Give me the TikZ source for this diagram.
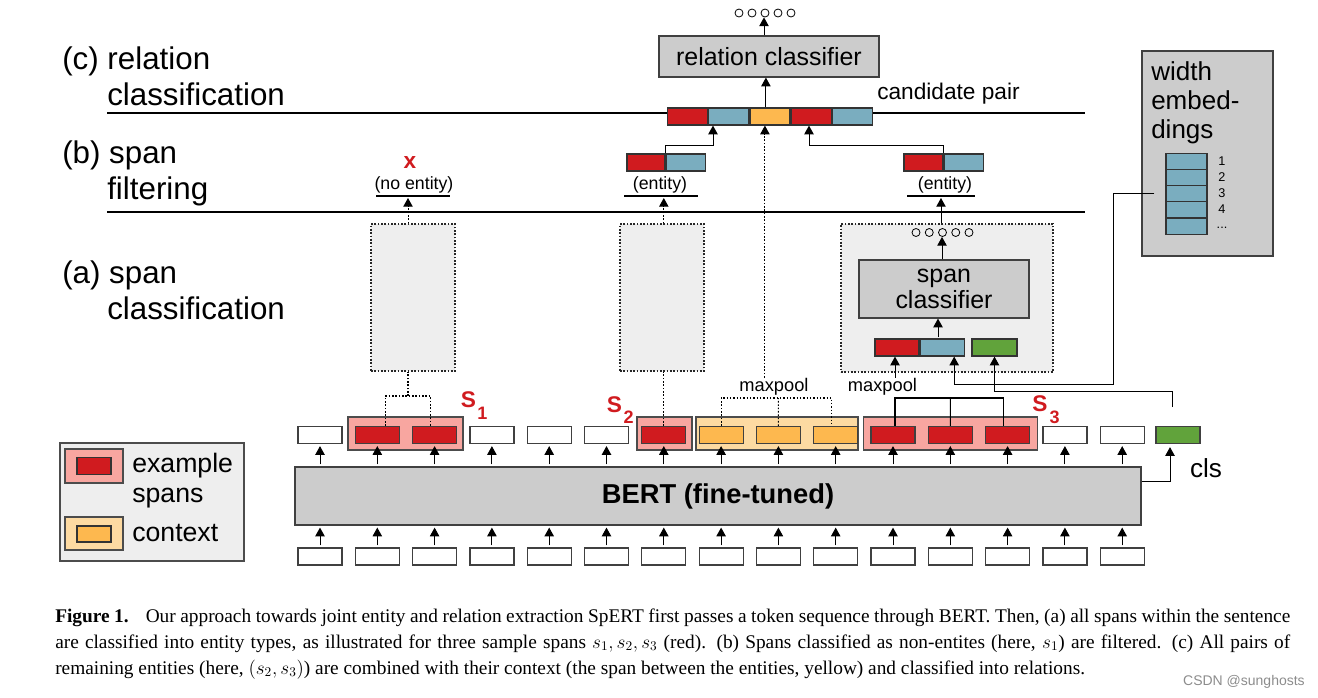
\documentclass[tikz,border=0pt]{standalone}
\usepackage{fontspec}
\setmainfont{Liberation Sans}
\newfontfamily\capfont{Liberation Serif}
\usetikzlibrary{arrows.meta,positioning}

\newlength{\upx}
\setlength{\upx}{0.75pt}

\definecolor{spanred}{RGB}{208,27,31}
\definecolor{embblue}{RGB}{122,173,191}
\definecolor{ctxyellow}{RGB}{253,184,79}
\definecolor{clsgreen}{RGB}{97,163,59}
\definecolor{spanpink}{RGB}{248,166,160}
\definecolor{ctxlight}{RGB}{253,218,162}
\definecolor{boxgray}{RGB}{204,204,204}
\definecolor{panelgray}{RGB}{238,238,238}

\tikzset{
  tok/.style={draw=black!75, line width=0.9pt, fill=white, minimum width=44\upx, minimum height=17\upx, inner sep=0pt},
  cell/.style={draw=black!80, line width=0.9pt, minimum width=40\upx, minimum height=17\upx, inner sep=0pt},
  spanbg/.style={draw=black!70, line width=0.9pt, fill=spanpink, minimum height=33\upx, inner sep=0pt},
  ctxbg/.style={spanbg, fill=ctxlight},
  grayblock/.style={draw=black!75, line width=0.9pt, fill=boxgray, inner sep=0pt},
  dotbox/.style={draw=black!85, dash pattern=on 1.2pt off 1.3pt, line width=0.9pt, fill=panelgray, inner sep=0pt},
  upar/.style={-{Triangle[width=7pt,length=6.5pt]}, line width=0.75pt},
  dotline/.style={dash pattern=on 1.2pt off 1.3pt, line width=0.8pt},
  lvl/.style={font=\fontsize{23.5pt}{27pt}\selectfont, align=left, anchor=base west, inner sep=0pt},
  smalltxt/.style={font=\fontsize{13.3pt}{16pt}\selectfont, inner sep=0pt},
  circ/.style={circle, draw, line width=0.6pt, minimum size=8\upx, inner sep=0pt},
  slbl/.style={text=spanred, font=\fontsize{17pt}{17pt}\selectfont\bfseries, inner sep=0pt},
  ssub/.style={text=spanred, font=\fontsize{13.5pt}{13.5pt}\selectfont\bfseries, inner sep=0pt},
  captxt/.style={anchor=base west, inner sep=0pt, font=\capfont\fontsize{14.5pt}{16pt}\selectfont},
}

\begin{document}
\begin{tikzpicture}[x=0.75pt, y=-0.75pt]
  \useasboundingbox (0,0) rectangle (1318,697);

  % levels (base = last line)
  \node[lvl] (lvlc) at (62,105) {(c) relation\\\hspace*{45\upx}classification};
  \node[lvl] (lvlb) at (62,199) {(b) span\\\hspace*{45\upx}filtering};
  \node[lvl] (lvla) at (62,319) {(a) span\\\hspace*{45\upx}classification};
  \draw[line width=0.9pt] (107,113) -- (667,113);
  \draw[line width=0.9pt] (868,113) -- (1085,113);
  \draw[line width=0.9pt] (107,212) -- (1085,212);

  % input tokens and BERT
  \foreach \i in {0,...,14} {
    \node[tok] (in\i) at ({320+57.3*\i},556.5) {};
  }
  \node[grayblock, minimum width=846\upx, minimum height=58\upx,
        font=\fontsize{20.5pt}{24pt}\selectfont\bfseries] (bert) at (718,496) {BERT (fine-tuned)};

  % spans behind the outputs
  \node[spanbg, minimum width=115\upx] (s1bg) at (405.5,433.5) {};
  \node[spanbg, minimum width=55\upx] (s2bg) at (664.5,433.5) {};
  \node[ctxbg, minimum width=162\upx] (ctx) at (777,433.5) {};
  \node[spanbg, minimum width=174\upx] (s3bg) at (950.5,433.5) {};
  \foreach \c [count=\i from 0] in {white,spanred,spanred,white,white,white,spanred,ctxyellow,ctxyellow,ctxyellow,spanred,spanred,spanred,white,white} {
    \node[tok, fill=\c] (out\i) at ({320+57.3*\i},435) {};
  }
  \node[tok, fill=clsgreen] (cls) at (1178,435) {};
  \foreach \i in {0,...,14} {
    \draw[upar, shorten <=2\upx, shorten >=2\upx] (in\i.north) -- (in\i.north |- bert.south);
    \draw[upar, shorten <=2\upx, shorten >=2\upx] (out\i.south |- bert.north) -- (out\i.south);
  }
  \coordinate (clsbend) at (1170,481);
  \draw[upar, shorten >=3\upx] (bert.east |- clsbend) -- (clsbend) -- (clsbend |- cls.south);
  \node[font=\fontsize{19.6pt}{22pt}\selectfont, anchor=base, inner sep=0pt] (clstxt) at (1206,477) {cls};

  \node[slbl] (s1) at (468.5,400) {S};
  \node[ssub] (s1i) at (482.5,413.5) {1};
  \node[slbl] (s2) at (614.5,405) {S};
  \node[ssub] (s2i) at (628.5,417.5) {2};
  \node[slbl] (s3) at (1040,404) {S};
  \node[ssub] (s3i) at (1054.5,417.5) {3};

  % span classification
  \node[dotbox, minimum width=84\upx, minimum height=147\upx] (box1) at (413,297.5) {};
  \node[dotbox, minimum width=84\upx, minimum height=147\upx] (box2) at (662,297.5) {};
  \node[dotbox, minimum width=212\upx, minimum height=148\upx] (box3) at (947,298) {};

  \node[cell, fill=spanred, minimum width=44\upx] (vr) at (897,347.5) {};
  \node[cell, fill=embblue, minimum width=44\upx, right=0pt of vr] (vb) {};
  \node[cell, fill=clsgreen, minimum width=45\upx] (vg) at (994.5,347.5) {};
  \node[grayblock, minimum width=170\upx, minimum height=58\upx, align=center,
        font=\fontsize{18.7pt}{19.5pt}\selectfont] (spc) at (944,289) {span\\classifier};
  \foreach \k in {0,...,4}
    \node[circ] (so\k) at ({916+13.25*\k},232.5) {};
  \draw[upar, shorten <=1\upx] ([xshift=-6\upx]spc.south |- vb.north) -- ([xshift=-6\upx]spc.south);
  \draw[upar] ([xshift=-2\upx]spc.north) -- ([xshift=-2\upx]spc.north |- so2.south);

  % brackets over the spans
  \coordinate (s1top) at (408,396);
  \draw[dotline] ([xshift=8\upx]out1.north) |- (s1top) -| ([xshift=-4\upx]out2.north);
  \draw[dotline] (s1top) -- (s1top |- box1.south);
  \draw[dotline] (out6.north) -- (out6.north |- box2.south);

  \coordinate (ctxtop) at (778.4,398);
  \draw[dotline] (out7.north) |- (ctxtop) -| ([xshift=-4\upx]out9.north);
  \draw[dotline] (out8.north) -- (ctxtop);
  \node[smalltxt, font=\fontsize{13.7pt}{16pt}\selectfont, anchor=base] (mp1) at (774,391) {maxpool};

  \coordinate (s3top) at (950.3,398);
  \draw[line width=0.8pt] ([xshift=2\upx]out10.north) |- (s3top) -| ([xshift=-4\upx]out12.north);
  \draw[line width=0.8pt] (out11.north) -- (s3top);
  \node[smalltxt, font=\fontsize{13.7pt}{16pt}\selectfont, anchor=base] (mp2) at (882.5,391) {maxpool};
  \draw[upar] ([xshift=2\upx]out10.north |- mp2.north) -- ([xshift=2\upx]out10.north |- vr.south);

  % width embeddings
  \node[grayblock, minimum width=131\upx, minimum height=205\upx] (wbox) at (1207.5,153.5) {};
  \node[font=\fontsize{19.5pt}{21.75pt}\selectfont, align=left, anchor=base west, inner sep=0pt] (wtxt) at (1151,138) {width\\embed-\\dings};
  \foreach \k in {0,...,4}
    \node[cell, fill=embblue, minimum width=41\upx, minimum height=16.2\upx] (emb\k) at (1186.5,{161.3+16.2*\k}) {};
  \foreach \k in {1,...,4}
    \node[font=\fontsize{9.5pt}{10pt}\selectfont, inner sep=0pt] (w\k) at (1222,{145+16*\k}) {\k};
  \node[font=\fontsize{9.5pt}{10pt}\selectfont, inner sep=0pt] (wdots) at (1222,228) {...};

  \coordinate (wturn) at (1113,384);
  \draw[upar] ([xshift=-11\upx]emb2.west) -| (wturn) -| ([xshift=12\upx]vb.south);
  \coordinate (gstart) at (1172,407);
  \coordinate (gturn) at (1172,391);
  \draw[upar] (gstart) -- (gturn) -| (vg.south);

  % span filtering
  \node[text=spanred, font=\fontsize{17pt}{17pt}\selectfont\bfseries, inner sep=0pt] (cross) at (410,163) {x};
  \node[smalltxt, anchor=base] (noent) at (414,189) {(no entity)};
  \node[smalltxt, anchor=base] (ent1) at (660,189) {(entity)};
  \node[smalltxt, anchor=base] (ent3) at (945,189) {(entity)};
  \coordinate (u0) at (413,196);
  \coordinate (u1) at (661,196);
  \coordinate (u3) at (941,196);
  \draw[line width=0.9pt] ([xshift=-37\upx]u0) -- ([xshift=37\upx]u0);
  \draw[line width=0.9pt] ([xshift=-37\upx]u1) -- ([xshift=37\upx]u1);
  \draw[line width=0.9pt] ([xshift=-34\upx]u3) -- ([xshift=34\upx]u3);
  \draw[dotline, upar, shorten >=2\upx] (s1top |- box1.north) -- (s1top |- u0);
  \draw[dotline, upar, shorten >=2\upx] (out6.north |- box2.north) -- (out6.north |- u1);
  \draw[upar, shorten >=2\upx] (u3 |- box3.north) -- (u3);

  \node[cell, fill=spanred, minimum width=38\upx] (e1r) at (646,162.5) {};
  \node[cell, fill=embblue, minimum width=39\upx, right=0pt of e1r] (e1b) {};
  \node[cell, fill=spanred, minimum width=39\upx] (e3r) at (923.5,162.5) {};
  \node[cell, fill=embblue, minimum width=39\upx, right=0pt of e3r] (e3b) {};

  % relation classification
  \node[cell, fill=spanred] (cp1) at (687.5,116.5) {};
  \node[cell, fill=embblue, right=0pt of cp1] (cp2) {};
  \node[cell, fill=ctxyellow, right=0pt of cp2] (cp3) {};
  \node[cell, fill=spanred, right=0pt of cp3] (cp4) {};
  \node[cell, fill=embblue, right=0pt of cp4] (cp5) {};
  \node[font=\fontsize{17pt}{20pt}\selectfont, anchor=base west, inner sep=0pt] (cand) at (877,99) {candidate pair};
  \coordinate (j1) at (713,145);
  \coordinate (j2) at (809,145);
  \draw[upar] (e1r.north east) |- (j1) -- (j1 |- cp1.south);
  \draw[upar] (e3r.north east) |- (j2) -- (j2 |- cp1.south);
  \draw[dotline, upar] ([xshift=-5\upx]cp3.south |- mp1.north) -- ([xshift=-5\upx]cp3.south);

  \node[grayblock, minimum width=220\upx, minimum height=41\upx,
        font=\fontsize{18.7pt}{20pt}\selectfont] (rc) at (769,56.5) {relation classifier};
  \foreach \k in {0,...,4}
    \node[circ] (ro\k) at ({739+13*\k},13) {};
  \draw[upar] ([xshift=-4\upx]cp3.north) -- ([xshift=-4\upx]cp3.north |- rc.south);
  \draw[upar] ([xshift=-5\upx]rc.north) -- ([xshift=-5\upx]rc.north |- ro2.south);

  % legend
  \node[draw=black!70, line width=0.9pt, fill=panelgray, minimum width=184\upx, minimum height=118\upx, inner sep=0pt] (legend) at (152,502) {};
  \node[spanbg, minimum width=58\upx, minimum height=34\upx] (lgspan) at (94,466) {};
  \node[cell, fill=spanred, minimum width=34\upx, minimum height=17\upx] (lgred) at (94,466) {};
  \node[ctxbg, minimum width=58\upx, minimum height=33\upx] (lgctx) at (94,533.5) {};
  \node[cell, fill=ctxyellow, minimum width=34\upx, minimum height=16\upx] (lgyel) at (94,534) {};
  \node[font=\fontsize{20pt}{22.5pt}\selectfont, align=left, anchor=base west, inner sep=0pt] (lgt1) at (132,502) {example\\spans};
  \node[font=\fontsize{20pt}{22.5pt}\selectfont, anchor=base west, inner sep=0pt] (lgt2) at (132,541) {context};

  % caption
  \node[captxt] (cap1) at (55,622)
    {\makebox[926.25pt][s]{\textbf{Figure 1.}\hspace{8pt} Our approach towards joint entity and relation extraction SpERT first passes a token sequence through BERT. Then, (a) all spans within the sentence}};
  \node[captxt] (cap2) at (55,648)
    {\makebox[926.25pt][s]{are classified into entity types, as illustrated for three sample spans $s_1, s_2, s_3$ (red). (b) Spans classified as non-entites (here, $s_1$) are filtered. (c) All pairs of}};
  \node[captxt] (cap3) at (55,674)
    {remaining entities (here, $(s_2, s_3)$) are combined with their context (the span between the entities, yellow) and classified into relations.};
  \node[anchor=base east, inner sep=0pt, text=black!45, font=\fontsize{10.5pt}{12pt}\selectfont] (wm) at (1305,685) {CSDN @sunghosts};
\end{tikzpicture}
\end{document}
